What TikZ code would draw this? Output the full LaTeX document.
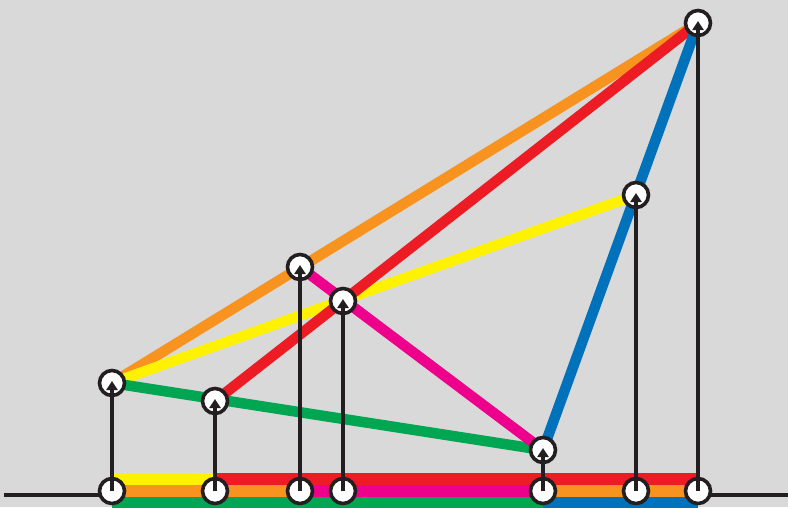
\documentclass[tikz,border=0pt]{standalone}
\usepackage{xcolor}
\usetikzlibrary{arrows.meta, backgrounds, calc, math}
\definecolor{bggray}{RGB}{217,217,217}
\definecolor{ink}{RGB}{35,31,32}
\definecolor{lorange}{RGB}{247,147,30}
\definecolor{lred}{RGB}{237,28,36}
\definecolor{lyellow}{RGB}{255,242,0}
\definecolor{lgreen}{RGB}{0,166,81}
\definecolor{lmagenta}{RGB}{236,0,140}
\definecolor{lblue}{RGB}{0,114,188}

\tikzset{
  halt/.style={circle, draw=ink, fill=white, line width=3.6pt, minimum size=25pt, inner sep=0pt},
  rise/.style={draw=ink, line width=3.2pt, -{Triangle[length=9pt,width=11pt]}},
  track/.style={line width=10.5pt},
}

\begin{document}
\begin{tikzpicture}[x=1pt,y=-1pt]
\tikzmath{
\gy=491;
\bandA=473; \bandB=485; \bandC=496.5; \bandD=508;
}
\useasboundingbox (0,0) rectangle (788,507);

% stops on the ground line
\node[halt] (g1) at (112,\gy) {};
\node[halt] (g2) at (215,\gy) {};
\node[halt] (g3) at (300,\gy) {};
\node[halt] (g4) at (343,\gy) {};
\node[halt] (g5) at (543,\gy) {};
\node[halt] (g6) at (636,\gy) {};
\node[halt] (g7) at (698,\gy) {};

% raised stops
\node[halt] (s1) at (112,383) {};
\node[halt] (s2) at (215,401) {};
\node[halt] (s3) at (300,267) {};
\node[halt] (s4) at (343,301) {};
\node[halt] (s5) at (543,450) {};
\node[halt] (s6) at (636,195) {};
\node[halt] (s7) at (698,23) {};

\begin{pgfonlayer}{background}
\fill[bggray] (0,0) rectangle (788,507);
\draw[ink, line width=3.2pt] (4,495) -- (788,495);

% bands under the ground line
\fill[lyellow] (112,\bandA) rectangle (215,\bandB);
\fill[lred] (215,\bandA) rectangle (698,\bandB);
\fill[lorange] (112,\bandB) rectangle (300,\bandC);
\fill[lmagenta] (300,\bandB) rectangle (543,\bandC);
\fill[lorange] (543,\bandB) rectangle (698,\bandC);
\fill[lgreen] (112,\bandC) rectangle (543,\bandD);
\fill[lblue] (543,\bandC) rectangle (698,\bandD);

\draw[track, lorange] (s1.center) -- (s7.center);
\draw[track, lyellow] (s1.center) -- (s6.center);
\draw[track, lgreen] (s1.center) -- (s5.center);
\draw[track, lred] (s2.center) -- (s7.center);
\draw[track, lmagenta] (s3.center) -- (s5.center);
\draw[track, lblue] (s5.center) -- (s7.center);
\end{pgfonlayer}

\foreach \i in {1,...,7}{
  \draw[rise] (g\i.center) -- ($(s\i.center)+(0,-2)$);
}
\end{tikzpicture}
\end{document}
